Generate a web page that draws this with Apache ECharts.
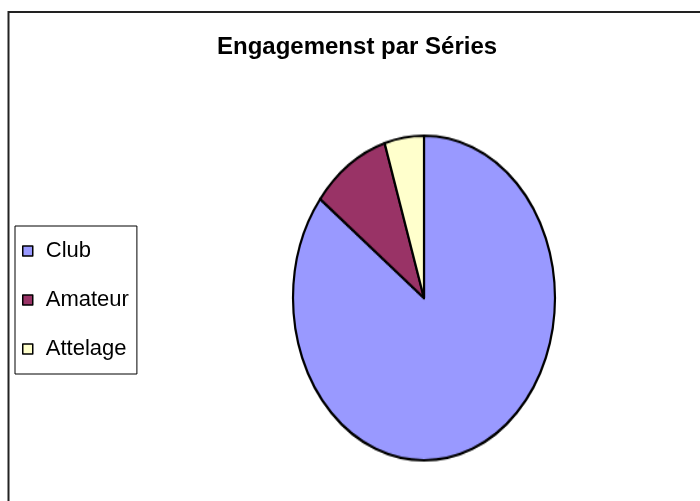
<!DOCTYPE html>
<html>
<head>
<meta charset="utf-8">
<script src="https://cdn.jsdelivr.net/npm/echarts@6/dist/echarts.min.js"></script>
<style>
  html, body { margin: 0; padding: 0; background: #fff; }
  #main { position: absolute; left: 0; top: 0; width: 700px; height: 501px; }
  #pie { position: absolute; left: 274px; top: 148px; width: 300px; height: 300px;
         transform: scaleY(1.239); transform-origin: 50% 50%; }
</style>
</head>
<body>
<div id="main"></div>
<div id="pie"></div>
<script>
const titleText = 'Engagemenst par Séries';
const categories = ['Club', 'Amateur', 'Attelage'];
const values = [88, 10, 5];
const colors = ['#9999FF', '#993366', '#FFFFCC'];

const data = categories.map((c, i) => ({ name: c, value: values[i], itemStyle: { color: colors[i] } }));
const FONT = '"Liberation Sans", Arial, sans-serif';

const main = echarts.init(document.getElementById('main'), null, { renderer: 'canvas' });
main.setOption({
  animation: false,
  backgroundColor: '#fff',
  title: {
    text: titleText,
    left: 212,
    top: 30,
    padding: 5,
    textStyle: { fontFamily: FONT, fontSize: 24, fontWeight: 'bold', color: '#000' }
  },
  legend: {
    orient: 'vertical',
    left: 15,
    top: 226,
    padding: [14, 8, 14, 7],
    itemGap: 27,
    itemWidth: 10,
    itemHeight: 10,
    icon: 'rect',
    borderColor: '#000',
    borderWidth: 1,
    selectedMode: false,
    itemStyle: { borderColor: '#000', borderWidth: 1.5 },
    textStyle: { fontFamily: FONT, fontSize: 22, lineHeight: 22, color: '#000', padding: [0, 0, 0, 8] },
    data: categories
  },
  graphic: [{
    type: 'rect',
    shape: { x: 8.5, y: 12, width: 800, height: 600 },
    style: { fill: 'none', stroke: '#222', lineWidth: 2 },
    silent: true
  }],
  series: [{
    type: 'pie',
    radius: [0, 0],
    center: [-100, -100],
    silent: true,
    label: { show: false },
    data: data
  }]
});

const pie = echarts.init(document.getElementById('pie'), null, { renderer: 'canvas' });
pie.setOption({
  animation: false,
  series: [{
    type: 'pie',
    radius: 131,
    center: ['50%', '50%'],
    startAngle: 90,
    clockwise: true,
    label: { show: false },
    labelLine: { show: false },
    emphasis: { disabled: true },
    itemStyle: { borderColor: '#000', borderWidth: 2.2 },
    data: data
  }]
});
</script>
</body>
</html>
